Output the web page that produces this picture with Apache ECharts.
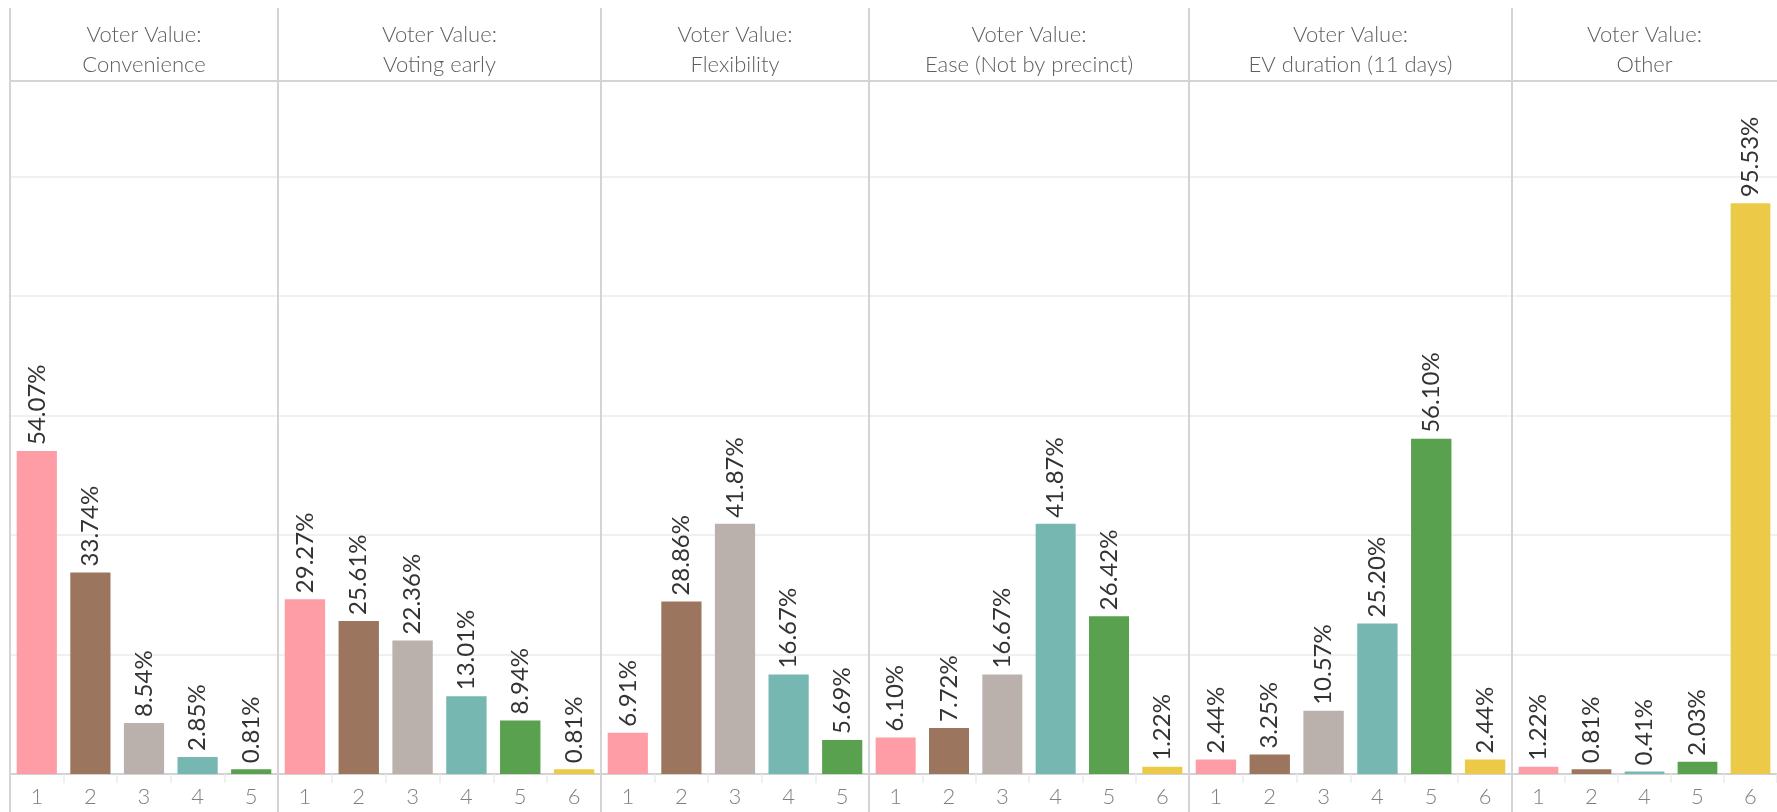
<!DOCTYPE html>
<html>
<head>
<meta charset="utf-8">
<title>Voter Value ranking distribution</title>
<script src="https://cdn.jsdelivr.net/npm/echarts@6/dist/echarts.min.js"></script>
<style>
  html, body { margin: 0; padding: 0; background: #fff; }
  #chart { width: 1777px; height: 812px; }
</style>
</head>
<body>
<div id="chart"></div>
<script>
// Panel headers
const panelNames = [
  'Convenience',
  'Voting early',
  'Flexibility',
  'Ease (Not by precinct)',
  'EV duration (11 days)',
  'Other'
];

// Ranks present in each panel
const convenienceRanks = ['1', '2', '3', '4', '5'];
const votingEarlyRanks = ['1', '2', '3', '4', '5', '6'];
const flexibilityRanks = ['1', '2', '3', '4', '5'];
const easeRanks = ['1', '2', '3', '4', '5', '6'];
const evDurationRanks = ['1', '2', '3', '4', '5', '6'];
const otherRanks = ['1', '2', '4', '5', '6'];

// Share of respondents (%) per rank
const convenienceValues = [54.07, 33.74, 8.54, 2.85, 0.81];
const votingEarlyValues = [29.27, 25.61, 22.36, 13.01, 8.94, 0.81];
const flexibilityValues = [6.91, 28.86, 41.87, 16.67, 5.69];
const easeValues = [6.10, 7.72, 16.67, 41.87, 26.42, 1.22];
const evDurationValues = [2.44, 3.25, 10.57, 25.20, 56.10, 2.44];
const otherValues = [1.22, 0.81, 0.41, 2.03, 95.53];

const panelRanks = [convenienceRanks, votingEarlyRanks, flexibilityRanks, easeRanks, evDurationRanks, otherRanks];
const panelValues = [convenienceValues, votingEarlyValues, flexibilityValues, easeValues, evDurationValues, otherValues];

// Colour for each rank
const rankColors = {
  '1': '#FF9DA7',
  '2': '#9C755F',
  '3': '#BAB0AC',
  '4': '#76B7B2',
  '5': '#59A14F',
  '6': '#EDC948'
};

// Layout
const W = 1777, H = 812;
const panelEdges = [10, 278, 601, 869, 1189, 1512, 1777];
const headerTop = 8;
const plotTop = 81;
const plotBottom = 774;
const fontFamily = 'Lato, "Open Sans", sans-serif';

const grids = [], xAxes = [], yAxes = [], series = [], graphics = [];

panelNames.forEach((name, i) => {
  const left = panelEdges[i];
  const right = panelEdges[i + 1];
  grids.push({
    left: left,
    width: right - left,
    top: plotTop,
    height: plotBottom - plotTop,
    containLabel: false
  });
  xAxes.push({
    type: 'category',
    gridIndex: i,
    data: panelRanks[i],
    axisLine: { show: true, lineStyle: { color: '#d2d2d2', width: 2 } },
    axisTick: {
      show: true, alignWithLabel: false, interval: 0, length: 9,
      lineStyle: { color: '#ececec', width: 1.5 }
    },
    axisLabel: {
      color: '#808080', fontSize: 22, fontWeight: 300, fontFamily: fontFamily, margin: 12
    }
  });
  yAxes.push({
    type: 'value',
    gridIndex: i,
    min: 0,
    max: 116,
    interval: 20,
    axisLine: { show: false },
    axisTick: { show: false },
    axisLabel: { show: false },
    splitLine: { show: true, lineStyle: { color: '#f0f0f0', width: 2 } }
  });
  series.push({
    type: 'bar',
    xAxisIndex: i,
    yAxisIndex: i,
    barCategoryGap: '25%',
    data: panelValues[i].map((v, k) => ({
      value: v,
      itemStyle: { color: rankColors[panelRanks[i][k]] }
    })),
    label: {
      show: true,
      position: 'top',
      rotate: 90,
      align: 'left',
      verticalAlign: 'middle',
      distance: 6,
      color: '#333',
      fontSize: 24,
      fontWeight: 400,
      fontFamily: fontFamily,
      formatter: p => p.value.toFixed(2) + '%'
    },
    emphasis: { disabled: true },
    animation: false
  });

  // Panel header
  graphics.push({
    type: 'text',
    x: (left + right) / 2,
    y: 35,
    style: {
      text: 'Voter Value:',
      fill: '#5e5e5e', font: '300 22px ' + fontFamily,
      textAlign: 'center', textVerticalAlign: 'middle'
    }
  });
  graphics.push({
    type: 'text',
    x: (left + right) / 2,
    y: 65,
    style: {
      text: name,
      fill: '#5e5e5e', font: '300 22px ' + fontFamily,
      textAlign: 'center', textVerticalAlign: 'middle'
    }
  });
});

// Panel dividers
panelEdges.slice(0, -1).forEach(x => {
  graphics.push({
    type: 'line',
    shape: { x1: x, y1: headerTop, x2: x, y2: H },
    style: { stroke: '#d4d4d4', lineWidth: 2 },
    z: 10
  });
});

// Header rule
graphics.push({
  type: 'line',
  shape: { x1: panelEdges[0], y1: plotTop, x2: W, y2: plotTop },
  style: { stroke: '#d4d4d4', lineWidth: 2 },
  z: 10
});

const chart = echarts.init(document.getElementById('chart'), null, { renderer: 'canvas' });
chart.setOption({
  backgroundColor: '#ffffff',
  animation: false,
  grid: grids,
  xAxis: xAxes,
  yAxis: yAxes,
  series: series,
  graphic: graphics
});
</script>
</body>
</html>
